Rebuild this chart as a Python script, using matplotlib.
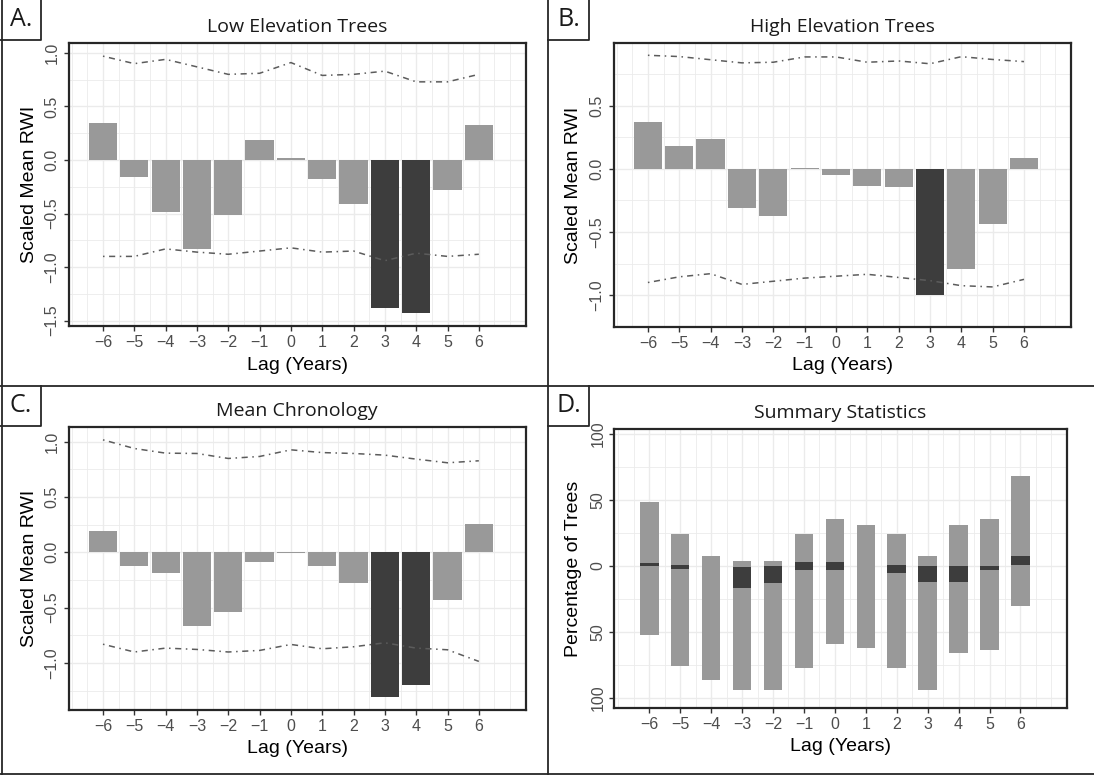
import numpy as np
import matplotlib.pyplot as plt
from matplotlib.lines import Line2D

lags = list(range(-6, 7))

# Panel A: low elevation trees
low_rwi = [0.35, -0.16, -0.49, -0.83, -0.51, 0.19, 0.02, -0.18, -0.41, -1.38, -1.43, -0.28, 0.33]
low_upper = [0.97, 0.90, 0.94, 0.87, 0.80, 0.81, 0.91, 0.79, 0.80, 0.83, 0.73, 0.73, 0.80]
low_lower = [-0.90, -0.90, -0.83, -0.86, -0.88, -0.85, -0.82, -0.86, -0.85, -0.94, -0.87, -0.90, -0.88]

# Panel B: high elevation trees
high_rwi = [0.37, 0.18, 0.24, -0.31, -0.37, 0.005, -0.05, -0.135, -0.14, -1.0, -0.79, -0.44, 0.09]
high_upper = [0.90, 0.89, 0.865, 0.84, 0.845, 0.887, 0.887, 0.845, 0.855, 0.833, 0.889, 0.867, 0.85]
high_lower = [-0.90, -0.855, -0.83, -0.915, -0.89, -0.865, -0.85, -0.835, -0.86, -0.885, -0.925, -0.935, -0.875]

# Panel C: mean chronology
mean_rwi = [0.19, -0.12, -0.19, -0.665, -0.54, -0.09, -0.006, -0.125, -0.28, -1.305, -1.195, -0.43, 0.255]
mean_upper = [1.015, 0.937, 0.895, 0.892, 0.847, 0.865, 0.925, 0.90, 0.892, 0.877, 0.841, 0.808, 0.826]
mean_lower = [-0.83, -0.90, -0.865, -0.877, -0.90, -0.886, -0.832, -0.871, -0.853, -0.817, -0.865, -0.88, -0.985]

# Panel D: percentage of trees responding (positive up, negative down)
pct_pos = [48.0, 24.0, 7.5, 3.75, 3.75, 24.0, 35.25, 30.75, 24.0, 7.5, 30.75, 35.25, 68.0]
pct_neg = [52.0, 76.0, 86.0, 94.0, 94.0, 77.0, 59.0, 62.5, 77.0, 94.0, 66.0, 63.5, 30.75]
net_low = [0.0, -2.25, np.nan, -16.5, -12.75, -3.0, -3.0, np.nan, -5.25, -12.0, -12.0, -3.0, 0.75]
net_high = [2.25, 0.75, np.nan, -0.75, 0.0, 3.0, 3.0, np.nan, 0.75, 0.0, 0.0, 0.0, 7.5]

LIGHT = '#999999'
DARK = '#3d3d3d'
GRID = '#ebebeb'
W, H = 1094, 775

plt.rcParams['font.family'] = ['Liberation Sans', 'DejaVu Sans']
fig = plt.figure(figsize=(W / 100, H / 100), dpi=100)


def px_axes(x0, y0, x1, y1):
    return fig.add_axes([x0 / W, 1 - y1 / H, (x1 - x0) / W, (y1 - y0) / H])


def style(ax, title, ylabel, ylab_x, yticks, minor_y):
    ax.set_facecolor('white')
    ax.set_xticks(lags)
    ax.set_xticklabels([str(v).replace('-', '\u2212') for v in lags])
    ax.set_xticks(np.arange(-7, 7.51, 0.5), minor=True)
    ax.set_yticks(yticks)
    ax.set_yticks(minor_y, minor=True)
    ax.grid(True, which='major', color=GRID, lw=1.0, zorder=0)
    ax.grid(True, which='minor', color=GRID, lw=0.6, zorder=0)
    ax.set_axisbelow(True)
    ax.tick_params(which='major', length=3.5, width=1.0, color='#333333',
                   labelsize=11.5, labelcolor='#4d4d4d', pad=3)
    ax.tick_params(which='minor', length=0)
    ax.tick_params(axis='y', labelrotation=90)
    for lab in ax.get_yticklabels():
        lab.set_va('center')
    for sp in ax.spines.values():
        sp.set_linewidth(1.6)
        sp.set_color('#262626')
    ax.set_title(title, family=['Open Sans', 'DejaVu Sans'], fontsize=14,
                 color='#1a1a1a', pad=8)
    ax.set_xlabel('Lag (Years)', fontsize=14)
    ax.xaxis.set_label_coords(0.5, -0.108)
    ax.set_ylabel(ylabel, fontsize=14)
    ax.yaxis.set_label_coords(ylab_x, 0.5)


def rwi_panel(ax, vals, upper, lower, title):
    colors = [DARK if (v > u or v < l) else LIGHT for v, u, l in zip(vals, upper, lower)]
    ax.bar(lags, vals, width=0.9, color=colors, zorder=2)
    ls = (0, (1, 3, 4, 3))
    ax.plot(lags, upper, color='#5c5c5c', lw=1.1, ls=ls, zorder=3)
    ax.plot(lags, lower, color='#5c5c5c', lw=1.1, ls=ls, zorder=3)
    lo = min(min(vals), min(lower))
    hi = max(max(vals), max(upper))
    pad = (hi - lo) * 0.05
    ax.set_ylim(lo - pad, hi + pad)
    ax.set_xlim(-7.095, 7.095)
    yt = np.arange(-1.5, 1.01, 0.5)
    yt = yt[(yt >= lo - pad) & (yt <= hi + pad)]
    ym = np.arange(-1.25, 1.0, 0.5)
    style(ax, title, 'Scaled Mean RWI', -0.068, yt, ym)
    ax.set_yticklabels([f'{v:.1f}'.replace('-', '\u2212') for v in yt])


axA = px_axes(68.7, 43.3, 525.8, 326.0)
rwi_panel(axA, low_rwi, low_upper, low_lower, 'Low Elevation Trees')

axB = px_axes(613.6, 43.3, 1071.0, 326.7)
rwi_panel(axB, high_rwi, high_upper, high_lower, 'High Elevation Trees')

axC = px_axes(68.7, 427.0, 525.8, 709.7)
rwi_panel(axC, mean_rwi, mean_upper, mean_lower, 'Mean Chronology')

# Panel D: summary bars
axD = px_axes(614.3, 429.3, 1066.9, 708.0)
neg = [-v for v in pct_neg]
axD.bar(lags, np.array(pct_pos) - np.array(neg), bottom=neg, width=0.6, color=LIGHT, zorder=2)
net_h = np.nan_to_num(np.array(net_high) - np.array(net_low))
axD.bar(lags, net_h, bottom=np.nan_to_num(net_low), width=0.6, color=DARK, zorder=3)
axD.set_xlim(-7.13, 7.13)
axD.set_ylim(-107.5, 103.2)
d_ticks = [-100, -50, 0, 50, 100]
style(axD, 'Summary Statistics', 'Percentage of Trees', -0.072, d_ticks, [-75, -25, 25, 75])
axD.set_yticklabels([str(abs(v)) for v in d_ticks])

# Panel frames and letter boxes
line_kw = dict(color='#262626', lw=1.3, transform=fig.transFigure, clip_on=False)


def fx(x):
    return x / W


def fy(y):
    return 1 - y / H


for (x0, y0, x1, y1) in [(1.5, 0, 1.5, 775), (548, 0, 548, 773.5),
                         (0, 386, 1094, 386), (0, 773.5, 1094, 773.5)]:
    fig.add_artist(Line2D([fx(x0), fx(x1)], [fy(y0), fy(y1)], **line_kw))

for letter, bx, by in [('A.', 0, 0), ('B.', 548, 0), ('C.', 0, 386), ('D.', 548, 386)]:
    fig.add_artist(Line2D([fx(bx), fx(bx + 41), fx(bx + 41)],
                          [fy(by + 39.5), fy(by + 39.5), fy(by)], **line_kw))
    fig.text(fx(bx + 21), fy(by + 19.5), letter, ha='center', va='center',
             fontsize=18, family=['Open Sans', 'DejaVu Sans'], color='#1a1a1a')

fig.savefig('out.png', dpi=100)
